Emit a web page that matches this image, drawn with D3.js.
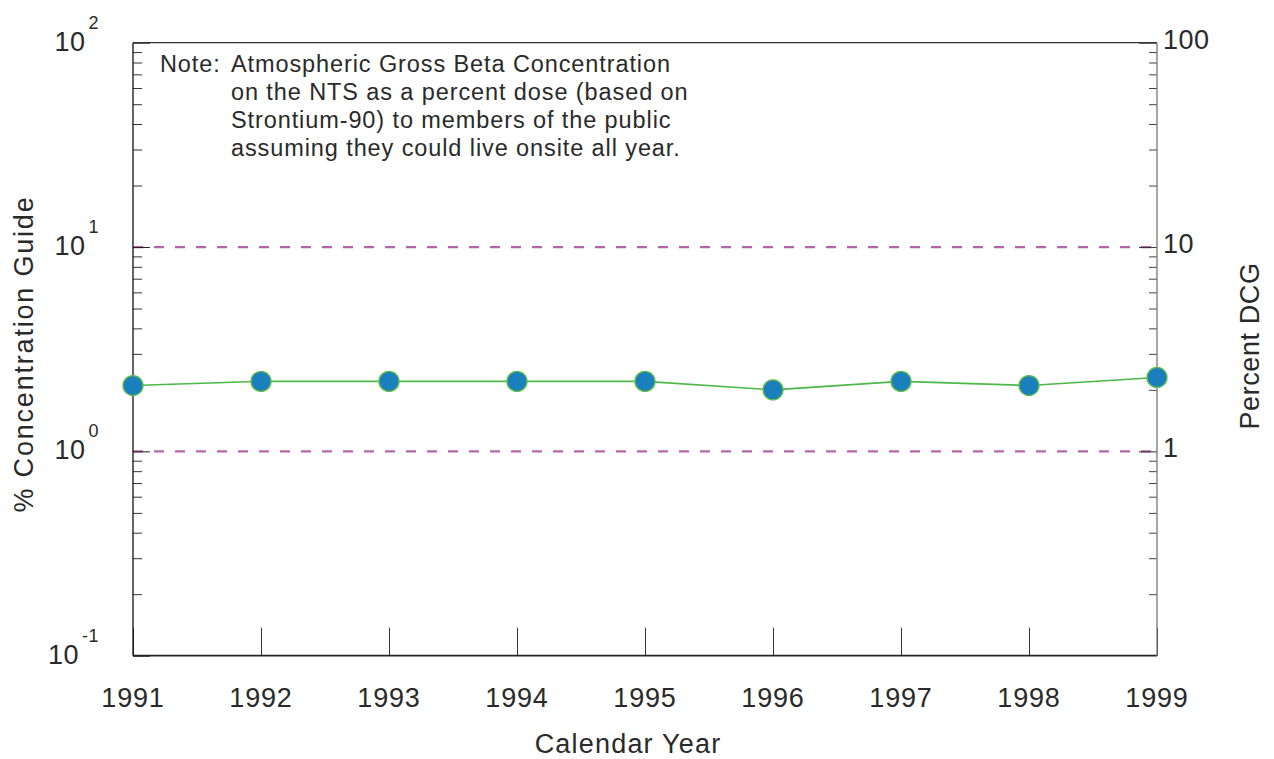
<!DOCTYPE html>
<html>
<head>
<meta charset="utf-8">
<script src="https://cdn.jsdelivr.net/npm/d3@7"></script>
<style>
  html, body { margin: 0; padding: 0; background: #fff; }
  svg { display: block; font-family: "Liberation Sans", Arial, sans-serif; }
</style>
</head>
<body>
<svg id="chart" width="1274" height="759"></svg>
<script>
// ---- data ----
const years = [1991, 1992, 1993, 1994, 1995, 1996, 1997, 1998, 1999];
const percentGuide = [2.1, 2.2, 2.2, 2.2, 2.2, 2.0, 2.2, 2.1, 2.3];
const referenceLevels = [10, 1];
const leftTickValues = [0.1, 1, 10, 100];
const leftTickExponents = ["-1", "0", "1", "2"];
const rightTickValues = [1, 10, 100];
const rightTickLabels = ["1", "10", "100"];
const noteLines = [
  "Atmospheric Gross Beta Concentration",
  "on the NTS as a percent dose (based on",
  "Strontium-90) to members of the public",
  "assuming they could live onsite all year."
];

// ---- layout ----
const svg = d3.select("#chart");
const L = 133, R = 1157, T = 42.7, B = 655.7;
const textColor = "#2a2a2a";

const x = d3.scaleLinear().domain([1991, 1999]).range([L, R]);
const y = d3.scaleLog().domain([0.1, 100]).range([B, T]);

const allTicks = y.ticks();
const minorTicks = allTicks.filter(v => !leftTickValues.some(m => Math.abs(m - v) < 1e-9));

// dashed reference lines
svg.append("g").selectAll("line").data(referenceLevels).join("line")
  .attr("x1", L).attr("x2", R)
  .attr("y1", d => y(d)).attr("y2", d => y(d))
  .attr("stroke", "#b565a7").attr("stroke-width", 2.2)
  .attr("stroke-dasharray", "10,11");

function styleAxis(g, color) {
  g.select(".domain").remove();
  g.selectAll(".tick line").attr("stroke", color).attr("stroke-width", 1);
  g.selectAll(".tick text").remove();
}
// left axis ticks (pointing inward)
svg.append("g").attr("transform", `translate(${L},0)`)
  .call(d3.axisRight(y).tickValues(minorTicks).tickSize(9).tickFormat(""))
  .call(g => styleAxis(g, "#333"));
svg.append("g").attr("transform", `translate(${L},0)`)
  .call(d3.axisRight(y).tickValues(leftTickValues).tickSize(17).tickFormat(""))
  .call(g => styleAxis(g, "#222"));

// right axis ticks
svg.append("g").attr("transform", `translate(${R},0)`)
  .call(d3.axisLeft(y).tickValues(minorTicks).tickSize(8).tickFormat(""))
  .call(g => styleAxis(g, "#444"));
svg.append("g").attr("transform", `translate(${R},0)`)
  .call(d3.axisLeft(y).tickValues(rightTickValues).tickSize(18).tickFormat(""))
  .call(g => styleAxis(g, "#333"));

// x axis ticks (pointing up)
svg.append("g").attr("transform", `translate(0,${B})`)
  .call(d3.axisTop(x).tickValues(years).tickSize(28).tickFormat(""))
  .call(g => styleAxis(g, "#333"));

// frame
svg.append("line").attr("x1", L).attr("x2", R).attr("y1", T).attr("y2", T)
  .attr("stroke", "#333").attr("stroke-width", 1.3);
svg.append("line").attr("x1", L).attr("x2", R).attr("y1", B).attr("y2", B)
  .attr("stroke", "#222").attr("stroke-width", 1.8);
svg.append("line").attr("x1", L).attr("x2", L).attr("y1", T).attr("y2", B)
  .attr("stroke", "#111").attr("stroke-width", 1.3);
svg.append("line").attr("x1", R).attr("x2", R).attr("y1", T).attr("y2", B)
  .attr("stroke", "#777").attr("stroke-width", 1.3);

// left tick labels 10^n
const lt = svg.append("g").selectAll("text").data(leftTickValues).join("text")
  .attr("x", 99).attr("y", d => y(d) + 8)
  .attr("text-anchor", "end")
  .attr("font-size", 27).attr("fill", textColor).attr("letter-spacing", 0.5);
lt.append("tspan").text("10");
lt.append("tspan").attr("dy", -22).attr("dx", 3).attr("font-size", 18)
  .text((d, i) => leftTickExponents[i]);

// right tick labels
svg.append("g").selectAll("text").data(rightTickValues).join("text")
  .attr("x", 1163).attr("y", d => y(d) + 6)
  .attr("font-size", 27).attr("fill", textColor).attr("letter-spacing", 0.5)
  .text((d, i) => rightTickLabels[i]);

// x tick labels
svg.append("g").selectAll("text").data(years).join("text")
  .attr("x", d => x(d)).attr("y", 707)
  .attr("text-anchor", "middle")
  .attr("font-size", 27).attr("fill", textColor).attr("letter-spacing", 0.8)
  .text(d => d);

// axis titles
svg.append("text").attr("x", 628).attr("y", 753)
  .attr("text-anchor", "middle").attr("font-size", 27)
  .attr("letter-spacing", 1.2).attr("fill", textColor)
  .text("Calendar Year");
svg.append("text")
  .attr("transform", "translate(33,354) rotate(-90)")
  .attr("text-anchor", "middle").attr("font-size", 27)
  .attr("letter-spacing", 1.8).attr("fill", textColor)
  .text("% Concentration Guide");
svg.append("text")
  .attr("transform", "translate(1259,346) rotate(-90)")
  .attr("text-anchor", "middle").attr("font-size", 27)
  .attr("letter-spacing", 0.6).attr("fill", textColor)
  .text("Percent DCG");

// note
svg.append("text").attr("x", 160).attr("y", 72)
  .attr("font-size", 23.5).attr("fill", textColor).attr("letter-spacing", 0.9)
  .text("Note:");
svg.append("g").selectAll("text").data(noteLines).join("text")
  .attr("x", 231).attr("y", (d, i) => 72 + i * 28)
  .attr("font-size", 23.5).attr("fill", textColor).attr("letter-spacing", 0.9)
  .text(d => d);

// data line
const lineGen = d3.line().x((d, i) => x(years[i])).y(d => y(d));
svg.append("path").datum(percentGuide)
  .attr("d", lineGen)
  .attr("fill", "none").attr("stroke", "#4cb848").attr("stroke-width", 1.6);

// markers
svg.append("g").selectAll("circle").data(percentGuide).join("circle")
  .attr("cx", (d, i) => x(years[i])).attr("cy", d => y(d))
  .attr("r", 10)
  .attr("fill", "#1b7fbe").attr("stroke", "#5cbc4a").attr("stroke-width", 1.3);
</script>
</body>
</html>
